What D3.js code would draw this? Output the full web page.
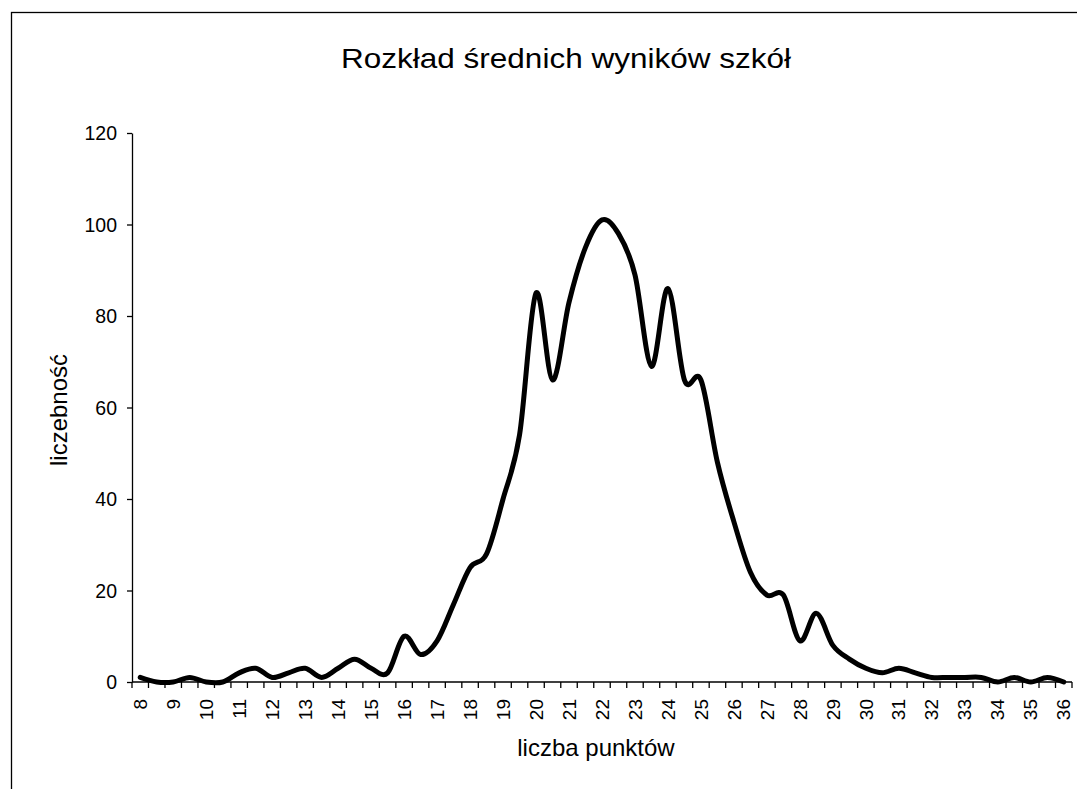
<!DOCTYPE html>
<html>
<head>
<meta charset="utf-8">
<script src="https://cdn.jsdelivr.net/npm/d3@7"></script>
<style>
  body { margin: 0; background: #fff; }
  text { font-family: "Liberation Sans", Arial, sans-serif; fill: #000; }
</style>
</head>
<body>
<div id="chart"></div>
<script>
// categories on the x axis (half points) and how many schools had each mean score
var categories = [8, 8.5, 9, 9.5, 10, 10.5, 11, 11.5, 12, 12.5, 13, 13.5, 14, 14.5, 15, 15.5,
  16, 16.5, 17, 17.5, 18, 18.5, 19, 19.5, 20, 20.5, 21, 21.5, 22, 22.5, 23, 23.5,
  24, 24.5, 25, 25.5, 26, 26.5, 27, 27.5, 28, 28.5, 29, 29.5, 30, 30.5, 31, 31.5,
  32, 32.5, 33, 33.5, 34, 34.5, 35, 35.5, 36];
var counts = [1, 0, 0, 1, 0, 0, 2, 3, 1, 2, 3, 1, 3, 5, 3, 2,
  10, 6, 9, 17, 25, 28, 40, 54, 85, 66, 83, 95, 101, 98, 89, 69,
  86, 66, 66, 48, 35, 24, 19, 19, 9, 15, 8, 5, 3, 2, 3, 2,
  1, 1, 1, 1, 0, 1, 0, 1, 0];
var yTicks = [0, 20, 40, 60, 80, 100, 120];

var chartTitle = "Rozkład średnich wyników szkół";
var xTitle = "liczba punktów";
var yTitle = "liczebność";

var W = 1077, H = 789;
var margin = {top: 133, right: 5, bottom: 107, left: 132};

var svg = d3.select("#chart").append("svg")
  .attr("width", W)
  .attr("height", H);

// outer frame of the chart (runs off the right and bottom edge)
svg.append("rect")
  .attr("x", 11.5).attr("y", 12.5)
  .attr("width", W + 20).attr("height", H + 20)
  .attr("fill", "none")
  .attr("stroke", "#000")
  .attr("stroke-width", 1.3);

var x = d3.scaleBand()
  .domain(categories)
  .range([margin.left, W - margin.right])
  .padding(0);

var y = d3.scaleLinear()
  .domain([0, 120])
  .range([H - margin.bottom, margin.top]);

// y axis
var yAxis = svg.append("g")
  .attr("transform", "translate(" + margin.left + ",0)")
  .call(d3.axisLeft(y).tickValues(yTicks).tickSize(5).tickSizeOuter(0).tickPadding(10));
yAxis.selectAll("text").style("font-size", "19.5px").attr("dy", "0.35em");
yAxis.selectAll("path,line").attr("stroke", "#000").attr("stroke-width", 1.3);

// x axis line
var y0 = y(0);
svg.append("line")
  .attr("x1", x.range()[0]).attr("x2", x.range()[1])
  .attr("y1", y0).attr("y2", y0)
  .attr("stroke", "#000").attr("stroke-width", 1.3);

// tick marks between categories
var bounds = categories.map(function(c) { return x(c); }).concat([x.range()[1]]);
svg.append("g").selectAll("line")
  .data(bounds)
  .enter().append("line")
  .attr("x1", function(d) { return d; })
  .attr("x2", function(d) { return d; })
  .attr("y1", y0)
  .attr("y2", y0 + 6)
  .attr("stroke", "#000")
  .attr("stroke-width", 1.3);

// category labels - only whole numbers, rotated
svg.append("g").selectAll("text")
  .data(categories.filter(function(c) { return c % 1 === 0; }))
  .enter().append("text")
  .attr("transform", function(d) {
    return "translate(" + (x(d) + x.bandwidth() / 2) + "," + (y0 + 17) + ") rotate(-90)";
  })
  .attr("text-anchor", "end")
  .attr("dy", "0.35em")
  .style("font-size", "19px")
  .text(function(d) { return d; });

// the curve
var line = d3.line()
  .x(function(d, i) { return x(categories[i]) + x.bandwidth() / 2; })
  .y(function(d) { return y(d); })
  .curve(d3.curveCardinal.tension(0));

svg.append("path")
  .datum(counts)
  .attr("d", line)
  .attr("fill", "none")
  .attr("stroke", "#000")
  .attr("stroke-width", 5)
  .attr("stroke-linejoin", "round")
  .attr("stroke-linecap", "round");

// titles
svg.append("text")
  .attr("x", 566).attr("y", 68)
  .attr("text-anchor", "middle")
  .attr("textLength", 450)
  .attr("lengthAdjust", "spacingAndGlyphs")
  .style("font-size", "28px")
  .text(chartTitle);

svg.append("text")
  .attr("x", 596).attr("y", 756)
  .attr("text-anchor", "middle")
  .style("font-size", "24px")
  .text(xTitle);

svg.append("text")
  .attr("transform", "translate(67,410) rotate(-90)")
  .attr("text-anchor", "middle")
  .style("font-size", "24px")
  .text(yTitle);
</script>
</body>
</html>
